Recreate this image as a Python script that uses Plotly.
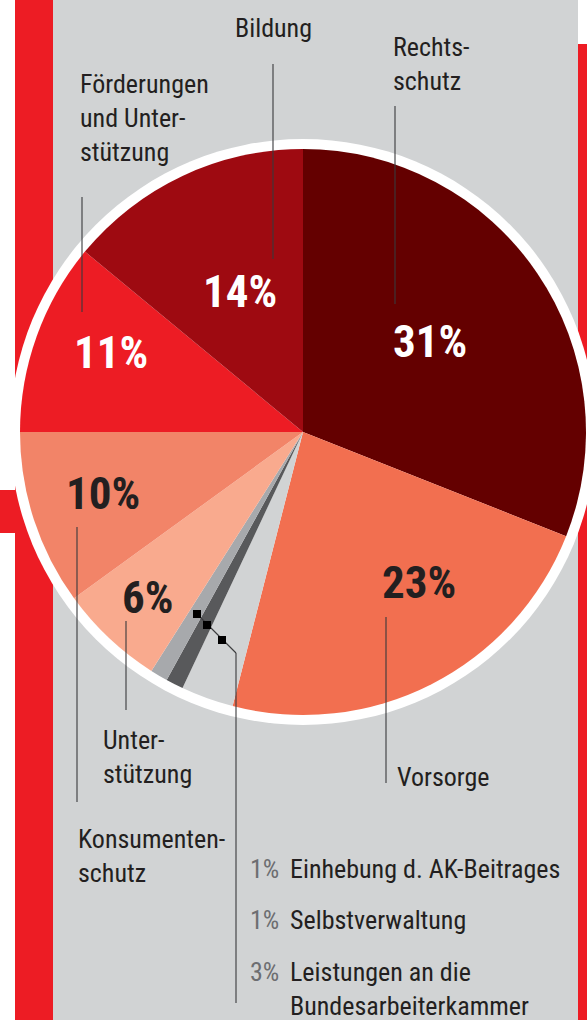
import plotly.graph_objects as go

W, H = 587, 1020

# slices, clockwise from 12 o'clock
labels = ["Rechtsschutz", "Vorsorge", "Leistungen an die Bundesarbeiterkammer",
          "Selbstverwaltung", "Einhebung d. AK-Beitrages", "Unterstützung",
          "Konsumentenschutz", "Förderungen und Unterstützung", "Bildung"]
values = [31, 23, 3, 1, 1, 6, 10, 11, 14]
colors = ["#640000", "#F26F50", "#D1D3D4", "#58595B", "#A7A9AC",
          "#F9AA8E", "#F28468", "#ED1C24", "#9E0A11"]

# outside labels (text as printed)
callout_text = ["Rechts-<br>schutz", "Vorsorge", None, None, None,
                "Unter-<br>stützung", "Konsumenten-<br>schutz",
                "Förderungen<br>und Unter-<br>stützung", "Bildung"]

# small slices listed at bottom right
legend_labels = ["Einhebung d. AK-Beitrages", "Selbstverwaltung",
                 "Leistungen an die<br>Bundesarbeiterkammer"]
legend_values = [1, 1, 3]

FONT = "Roboto Condensed, Liberation Sans Narrow, DejaVu Sans Condensed, sans-serif"
DARK = "#231F20"
RED = "#ED1C24"
GREY = "#D1D3D4"


def px(x):
    return x / W


def py(y):
    return 1 - y / H


cx, cy, r = 303, 432, 283

fig = go.Figure()
fig.add_trace(go.Pie(
    labels=labels, values=values, sort=False, direction="clockwise",
    marker=dict(colors=colors, line=dict(width=0)),
    textinfo="none", hoverinfo="label+percent", showlegend=False,
    domain=dict(x=[px(cx - r), px(cx + r)], y=[py(cy + r), py(cy - r)]),
))

shapes = []
# backgrounds
shapes.append(dict(type="rect", xref="paper", yref="paper", layer="below",
                   x0=px(53), x1=px(578), y0=0, y1=1, fillcolor=GREY, line_width=0))
shapes.append(dict(type="rect", xref="paper", yref="paper", layer="below",
                   x0=px(15), x1=px(53), y0=0, y1=1, fillcolor=RED, line_width=0))
shapes.append(dict(type="rect", xref="paper", yref="paper", layer="below",
                   x0=0, x1=px(15), y0=py(533), y1=py(490), fillcolor=RED, line_width=0))
shapes.append(dict(type="rect", xref="paper", yref="paper", layer="below",
                   x0=px(578), x1=1, y0=0, y1=py(44), fillcolor=RED, line_width=0))
# white ring behind pie
ro = 293
shapes.append(dict(type="circle", xref="paper", yref="paper", layer="below",
                   x0=px(cx - ro), x1=px(cx + ro), y0=py(cy + ro), y1=py(cy - ro),
                   fillcolor="white", line_width=0))

# leader lines (pixel coords)
leaders = [
    [(395, 106), (395, 304)],    # Rechtsschutz
    [(273, 64), (273, 259)],     # Bildung
    [(82, 197), (82, 312)],      # Förderungen
    [(77, 527), (77, 802)],      # Konsumentenschutz
    [(126, 621), (126, 710)],    # Unterstützung
    [(386, 617), (386, 783)],    # Vorsorge
    [(197, 614), (236, 653), (236, 1003)],  # small slices
]
for pts in leaders:
    for (x0, y0), (x1, y1) in zip(pts[:-1], pts[1:]):
        shapes.append(dict(type="line", xref="paper", yref="paper",
                           x0=px(x0), y0=py(y0), x1=px(x1), y1=py(y1),
                           line=dict(color="#3A3A3C", width=1.1)))
for (mx, my) in [(197, 614), (207, 625), (222, 640)]:
    shapes.append(dict(type="rect", xref="paper", yref="paper",
                       x0=px(mx - 4), x1=px(mx + 4), y0=py(my + 4), y1=py(my - 4),
                       fillcolor="black", line_width=0))

ann = []
# percent labels inside slices
pct_pos = [(430, 342, "white"), (419, 582, DARK), None, None, None,
           (148, 597, DARK), (103, 493, DARK), (111, 352, "white"), (240, 291, "white")]
for v, pos in zip(values, pct_pos):
    if pos is None:
        continue
    x, y, c = pos
    ann.append(dict(x=px(x), y=py(y), xref="paper", yref="paper", showarrow=False,
                    text=f"<b>{v}%</b>", font=dict(family=FONT, size=45, color=c),
                    xanchor="center", yanchor="middle"))

# outside labels
lab_pos = [(391, 30), (395, 760), None, None, None, (101, 723), (76, 822), (78, 67), (233, 11)]
for t, pos in zip(callout_text, lab_pos):
    if t is None:
        continue
    x, y = pos
    ann.append(dict(x=px(x), y=py(y), xref="paper", yref="paper", showarrow=False,
                    text=t, align="left", font=dict(family=FONT, size=26, color=DARK),
                    xanchor="left", yanchor="top"))

# bottom right list of small slices
leg_y = [852, 903, 955]
for t, v, y in zip(legend_labels, legend_values, leg_y):
    ann.append(dict(x=px(281), y=py(y), xref="paper", yref="paper", showarrow=False,
                    text=f"{v}%", font=dict(family=FONT, size=26, color="#6D6E71"),
                    xanchor="right", yanchor="top"))
    ann.append(dict(x=px(288), y=py(y), xref="paper", yref="paper", showarrow=False,
                    text=t, align="left", font=dict(family=FONT, size=26, color=DARK),
                    xanchor="left", yanchor="top"))

fig.update_layout(
    width=W, height=H, margin=dict(l=0, r=0, t=0, b=0),
    paper_bgcolor="white", plot_bgcolor="white",
    shapes=shapes, annotations=ann,
    font=dict(family=FONT),
)

fig.write_html("out.html", config={"displayModeBar": False},
               post_script="document.body.style.margin='0';")
